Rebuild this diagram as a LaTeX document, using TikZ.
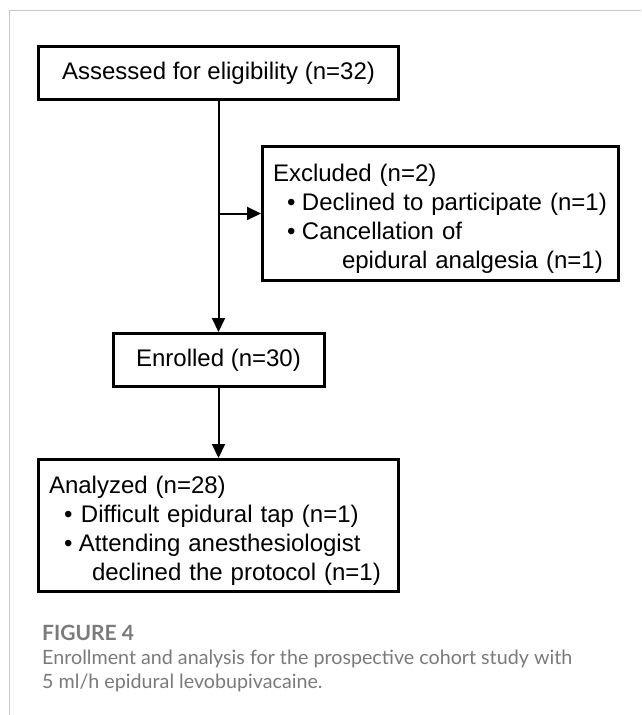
\documentclass[tikz,border=0pt]{standalone}
\usepackage{fontspec}
\setmainfont{Liberation Sans}
\newfontfamily\capfont{Lato}
\usetikzlibrary{arrows.meta}
\definecolor{framegray}{HTML}{C8C8C8}
\definecolor{capgray}{HTML}{7A7A7A}
\begin{document}
\begin{tikzpicture}[x=1pt,y=-1pt,
  box/.style={draw=black, line width=3pt, rectangle, inner ysep=0pt, inner xsep=10.5pt, outer sep=1.5pt,
    font=\fontsize{24}{29}\selectfont},
  listbox/.style={box, align=left},
  flow/.style={line width=2pt, -{Triangle[width=13pt,length=14pt]}},
  capstyle/.style={inner sep=0pt, anchor=base west, text=capgray, align=left}]
\useasboundingbox (0,0) rectangle (641,715);
\draw[framegray, line width=1.3pt] (9.5,715) |- (641,10.5);

\node[box, minimum width=360pt, minimum height=53pt] (assess) at (218.5,73) {Assessed for eligibility (n=32)};
\node[listbox, minimum width=356pt, minimum height=134pt, text width=335pt] (excl) at (440.5,213.5)
  {\mbox{\rule{0pt}{28pt}Excluded (n=2)}\\
   \mbox{\hspace*{14pt}\makebox[15pt][l]{•}Declined to participate (n=1)}\\
   \mbox{\hspace*{14pt}\makebox[15pt][l]{•}Cancellation of}\\
   \mbox{\hspace*{69pt}epidural analgesia (n=1)}};
\node[box, minimum width=211pt, minimum height=53pt] (enrol) at (218.5,360) {Enrolled (n=30)};
\node[listbox, minimum width=360pt, minimum height=132pt, text width=339pt] (anal) at (218.5,525.5)
  {\mbox{\rule{0pt}{27pt}Analyzed (n=28)}\\
   \mbox{\hspace*{15pt}\makebox[17pt][l]{•}Difficult epidural tap (n=1)}\\
   \mbox{\hspace*{15pt}\makebox[15pt][l]{•}Attending anesthesiologist}\\
   \mbox{\hspace*{43pt}declined the protocol (n=1)}};

\coordinate (j) at (assess.south |- excl.west);
\draw[flow] (assess.south) -- (enrol.north);
\draw[flow] (j) -- (excl.west);
\draw[flow] (enrol.south) -- (anal.north);

\node[capstyle, font=\capfont\bfseries\fontsize{21}{24}\selectfont] (fig) at (42,640) {FIGURE 4};
\node[capstyle, font=\capfont\fontsize{19.7}{24}\selectfont] (cap) at (42,688)
  {Enrollment and analysis for the prospective cohort study with\\5 ml/h epidural levobupivacaine.};
\end{tikzpicture}
\end{document}
